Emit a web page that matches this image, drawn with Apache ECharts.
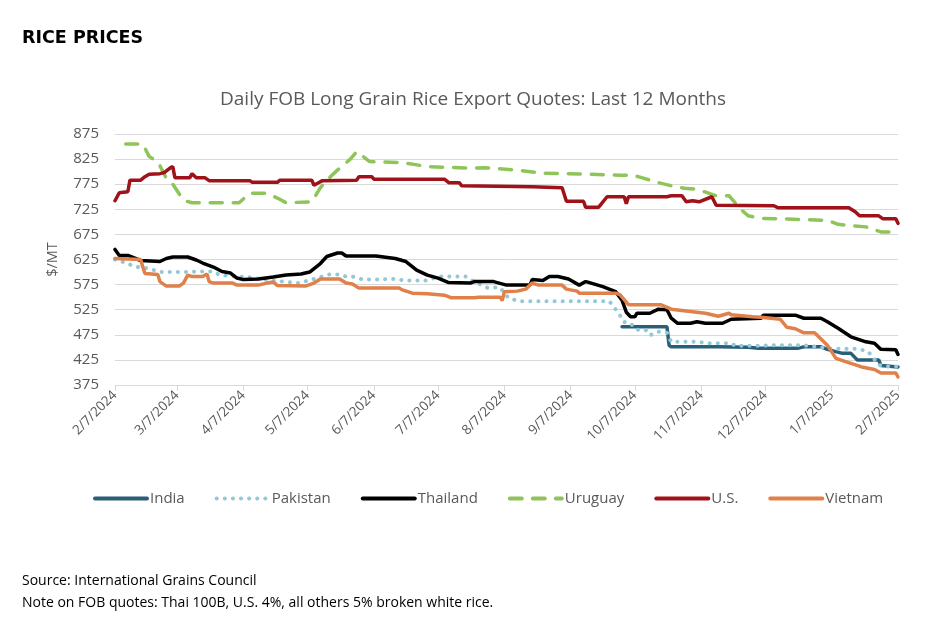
<!DOCTYPE html>
<html>
<head>
<meta charset="utf-8">
<script src="https://cdn.jsdelivr.net/npm/echarts@6/dist/echarts.min.js"></script>
<style>
  html, body { margin: 0; padding: 0; background: #fff; }
  #chart { width: 928px; height: 623px; }
</style>
</head>
<body>
<div id="chart"></div>
<script>
// quotes, [date, $/MT]
const india = [['2024-10-01',491],['2024-10-22',491],['2024-10-23',454],['2024-10-24',451],['2024-11-15',451],['2024-11-29',450],['2024-12-04',448],['2024-12-22',448],['2024-12-25',451],['2025-01-02',451],['2025-01-05',446],['2025-01-12',438],['2025-01-16',438],['2025-01-19',425],['2025-01-29',425],['2025-01-30',414],['2025-02-07',411]]

const pakistan = [['2024-02-07',625],['2024-02-13',617],['2024-02-16',611],['2024-02-23',607],['2024-02-28',600],['2024-03-12',600],['2024-03-16',601],['2024-03-24',601],['2024-03-27',594],['2024-04-04',591],['2024-04-09',590],['2024-04-20',583],['2024-05-03',578],['2024-05-13',590],['2024-05-17',595],['2024-05-22',595],['2024-05-25',591],['2024-05-28',591],['2024-06-02',585],['2024-06-09',585],['2024-06-13',586],['2024-06-17',586],['2024-06-22',583],['2024-07-01',583],['2024-07-08',591],['2024-07-20',591],['2024-07-24',581],['2024-07-30',569],['2024-08-05',569],['2024-08-09',548],['2024-08-14',542],['2024-09-25',542],['2024-09-27',532],['2024-09-30',514],['2024-10-02',500],['2024-10-03',501],['2024-10-06',494],['2024-10-08',485],['2024-10-12',485],['2024-10-14',474],['2024-10-18',481],['2024-10-22',479],['2024-10-24',461],['2024-11-05',461],['2024-11-11',458],['2024-11-21',458],['2024-11-23',453],['2024-12-05',453],['2024-12-09',454],['2024-12-25',454],['2024-12-31',451],['2025-01-05',448],['2025-01-14',447],['2025-01-19',447],['2025-01-24',442],['2025-01-29',415],['2025-02-01',412],['2025-02-07',412]]

const thailand = [['2024-02-07',645],['2024-02-09',633],['2024-02-13',633],['2024-02-19',623],['2024-02-28',621],['2024-03-02',627],['2024-03-05',630],['2024-03-12',630],['2024-03-16',624],['2024-03-19',618],['2024-03-24',610],['2024-03-28',601],['2024-04-01',598],['2024-04-04',588],['2024-04-07',585],['2024-04-14',586],['2024-04-21',590],['2024-04-27',594],['2024-05-04',596],['2024-05-08',600],['2024-05-13',617],['2024-05-16',631],['2024-05-21',638],['2024-05-23',638],['2024-05-25',632],['2024-06-08',632],['2024-06-17',627],['2024-06-22',621],['2024-06-27',604],['2024-07-02',594],['2024-07-07',588],['2024-07-12',579],['2024-07-22',578],['2024-07-24',581],['2024-08-02',581],['2024-08-08',574],['2024-08-19',574],['2024-08-20',585],['2024-08-25',583],['2024-08-28',591],['2024-09-01',591],['2024-09-06',586],['2024-09-11',574],['2024-09-14',581],['2024-09-15',580],['2024-09-22',571],['2024-09-28',561],['2024-10-01',544],['2024-10-03',520],['2024-10-05',511],['2024-10-07',511],['2024-10-08',518],['2024-10-14',518],['2024-10-18',526],['2024-10-22',525],['2024-10-24',508],['2024-10-27',498],['2024-11-02',498],['2024-11-05',501],['2024-11-09',498],['2024-11-17',498],['2024-11-21',506],['2024-12-05',508],['2024-12-06',514],['2024-12-21',514],['2024-12-25',508],['2025-01-02',508],['2025-01-05',501],['2025-01-10',488],['2025-01-16',471],['2025-01-23',461],['2025-01-27',458],['2025-01-30',446],['2025-02-06',445],['2025-02-07',436]]

const uruguay = [['2024-02-12',855],['2024-02-20',855],['2024-02-23',830],['2024-02-27',820],['2024-03-02',787],['2024-03-05',775],['2024-03-10',743],['2024-03-14',738],['2024-04-05',738],['2024-04-10',757],['2024-04-18',757],['2024-04-24',745],['2024-04-27',738],['2024-05-09',740],['2024-05-13',768],['2024-05-17',787],['2024-05-21',803],['2024-05-27',825],['2024-05-30',840],['2024-06-05',820],['2024-06-20',818],['2024-06-25',815],['2024-07-02',810],['2024-07-21',807],['2024-07-29',808],['2024-08-13',803],['2024-08-25',797],['2024-09-14',795],['2024-09-30',793],['2024-10-06',793],['2024-10-11',787],['2024-10-18',778],['2024-10-24',772],['2024-10-30',767],['2024-11-05',765],['2024-11-14',752],['2024-11-20',752],['2024-11-26',723],['2024-11-29',712],['2024-12-05',707],['2025-01-05',703],['2025-01-10',695],['2025-01-17',692],['2025-01-23',690],['2025-01-30',680],['2025-02-07',680]]

const us = [['2024-02-07',742],['2024-02-09',758],['2024-02-13',760],['2024-02-14',783],['2024-02-19',783],['2024-02-21',790],['2024-02-23',795],['2024-02-28',796],['2024-03-01',798],['2024-03-04',808],['2024-03-05',810],['2024-03-06',788],['2024-03-13',788],['2024-03-14',796],['2024-03-16',788],['2024-03-20',788],['2024-03-22',782],['2024-04-10',782],['2024-04-11',779],['2024-04-23',779],['2024-04-24',783],['2024-05-09',783],['2024-05-10',773],['2024-05-13',780],['2024-05-14',782],['2024-05-30',783],['2024-05-31',790],['2024-06-06',790],['2024-06-07',785],['2024-07-10',785],['2024-07-12',778],['2024-07-17',778],['2024-07-18',772],['2024-08-20',770],['2024-09-03',768],['2024-09-05',741],['2024-09-13',741],['2024-09-14',729],['2024-09-20',729],['2024-09-24',750],['2024-10-02',750],['2024-10-03',736],['2024-10-04',750],['2024-10-22',750],['2024-10-24',752],['2024-10-29',752],['2024-10-31',740],['2024-11-03',742],['2024-11-06',740],['2024-11-12',750],['2024-11-14',733],['2024-12-11',732],['2024-12-13',728],['2025-01-15',728],['2025-01-18',720],['2025-01-20',712],['2025-01-29',712],['2025-01-31',706],['2025-02-06',706],['2025-02-07',697]]

const vietnam = [['2024-02-07',627],['2024-02-19',625],['2024-02-20',610],['2024-02-21',597],['2024-02-27',595],['2024-02-28',581],['2024-03-02',572],['2024-03-08',572],['2024-03-10',578],['2024-03-12',594],['2024-03-14',591],['2024-03-19',591],['2024-03-21',596],['2024-03-22',581],['2024-03-24',578],['2024-04-02',578],['2024-04-04',574],['2024-04-14',574],['2024-04-18',578],['2024-04-21',580],['2024-04-23',573],['2024-05-06',572],['2024-05-10',578],['2024-05-13',586],['2024-05-22',586],['2024-05-25',578],['2024-05-28',576],['2024-05-31',568],['2024-06-19',568],['2024-06-20',565],['2024-06-25',558],['2024-07-02',557],['2024-07-10',554],['2024-07-13',549],['2024-07-24',549],['2024-07-26',550],['2024-08-05',550],['2024-08-06',543],['2024-08-07',561],['2024-08-13',562],['2024-08-17',566],['2024-08-20',578],['2024-08-23',574],['2024-09-03',574],['2024-09-05',566],['2024-09-10',562],['2024-09-11',558],['2024-09-28',558],['2024-09-30',555],['2024-10-03',540],['2024-10-04',535],['2024-10-19',535],['2024-10-24',526],['2024-10-30',523],['2024-11-09',518],['2024-11-15',512],['2024-11-20',518],['2024-11-21',515],['2024-12-01',511],['2024-12-05',510],['2024-12-14',506],['2024-12-17',490],['2024-12-21',487],['2024-12-25',479],['2024-12-30',479],['2025-01-05',454],['2025-01-09',428],['2025-01-16',418],['2025-01-21',411],['2025-01-27',406],['2025-01-30',399],['2025-02-06',399],['2025-02-07',391]]

const countries = ['India', 'Pakistan', 'Thailand', 'Uruguay', 'U.S.', 'Vietnam']

// one category per day, 2/7/2024 .. 2/7/2025
const days = []
for (let t = Date.UTC(2024, 1, 7); t <= Date.UTC(2025, 1, 7); t += 86400000) {
  days.push(new Date(t).toISOString().slice(0, 10))
}
const isTickDay = (i, v) => v.slice(8) === '07'
const fmtDay = v => {
  const p = v.split('-')
  return (+p[1]) + '/' + (+p[2]) + '/' + p[0]
}

const FONT = '"Open Sans", "Noto Sans", sans-serif'
const GREY = '#595959'

function line(name, data, color, width, type) {
  return {
    name: name,
    type: 'line',
    data: data,
    showSymbol: false,
    symbol: 'none',
    animation: false,
    itemStyle: { color: color },
    lineStyle: { color: color, width: width, type: type || 'solid', cap: 'round' }
  }
}

const chart = echarts.init(document.getElementById('chart'))
chart.setOption({
  backgroundColor: '#fff',
  textStyle: { fontFamily: FONT },
  title: [
    { text: 'RICE PRICES', left: 17, top: 24,
      textStyle: { fontSize: 17.5, fontWeight: 'bold', color: '#000', fontFamily: '"DejaVu Sans", sans-serif' } },
    { text: 'Daily FOB Long Grain Rice Export Quotes: Last 12 Months', left: 215, top: 85,
      textStyle: { fontSize: 19, fontWeight: 'normal', color: GREY, fontFamily: FONT } },
    { text: 'Source: International Grains Council', left: 17, top: 569,
      textStyle: { fontSize: 14, fontWeight: 'normal', color: '#000', fontFamily: FONT } },
    { text: 'Note on FOB quotes: Thai 100B, U.S. 4%, all others 5% broken white rice.', left: 17, top: 591,
      textStyle: { fontSize: 14, fontWeight: 'normal', color: '#000', fontFamily: FONT } }
  ],
  legend: {
    top: 486,
    left: 88,
    width: 820,
    itemWidth: 52,
    itemHeight: 14,
    itemGap: 30,
    itemStyle: { opacity: 0 },
    lineStyle: { width: 4, cap: 'round' },
    textStyle: { fontSize: 15, color: GREY, fontFamily: FONT, padding: [0, 0, 0, -2] },
    data: countries
  },
  grid: { left: 115, right: 30, top: 134, bottom: 238 },
  xAxis: {
    type: 'category',
    data: days,
    boundaryGap: false,
    axisLine: { lineStyle: { color: '#D9D9D9', width: 1 } },
    axisTick: { interval: isTickDay, length: 6, lineStyle: { color: '#D9D9D9' } },
    axisLabel: { interval: isTickDay, rotate: 45, formatter: fmtDay, color: GREY, fontSize: 13.5, margin: 8, fontFamily: FONT },
    splitLine: { show: false }
  },
  yAxis: {
    type: 'value',
    min: 375,
    max: 875,
    interval: 50,
    name: '$/MT',
    nameLocation: 'middle',
    nameRotate: 90,
    nameGap: 55,
    nameTextStyle: { color: GREY, fontSize: 14.5, fontFamily: FONT },
    axisLine: { show: false },
    axisTick: { show: false },
    axisLabel: { color: GREY, fontSize: 15, margin: 16, fontFamily: FONT },
    splitLine: { lineStyle: { color: '#D9D9D9', width: 1 } }
  },
  series: [
    line(countries[0], india, '#2A5F78', 3.5),
    line(countries[1], pakistan, '#92C8D8', 4, [0.1, 8]),
    line(countries[2], thailand, '#000000', 3.5),
    line(countries[3], uruguay, '#8FC45A', 3.5, [12, 11]),
    line(countries[4], us, '#A0121A', 3.5),
    line(countries[5], vietnam, '#E0804A', 3.5)
  ]
})
</script>
</body>
</html>
